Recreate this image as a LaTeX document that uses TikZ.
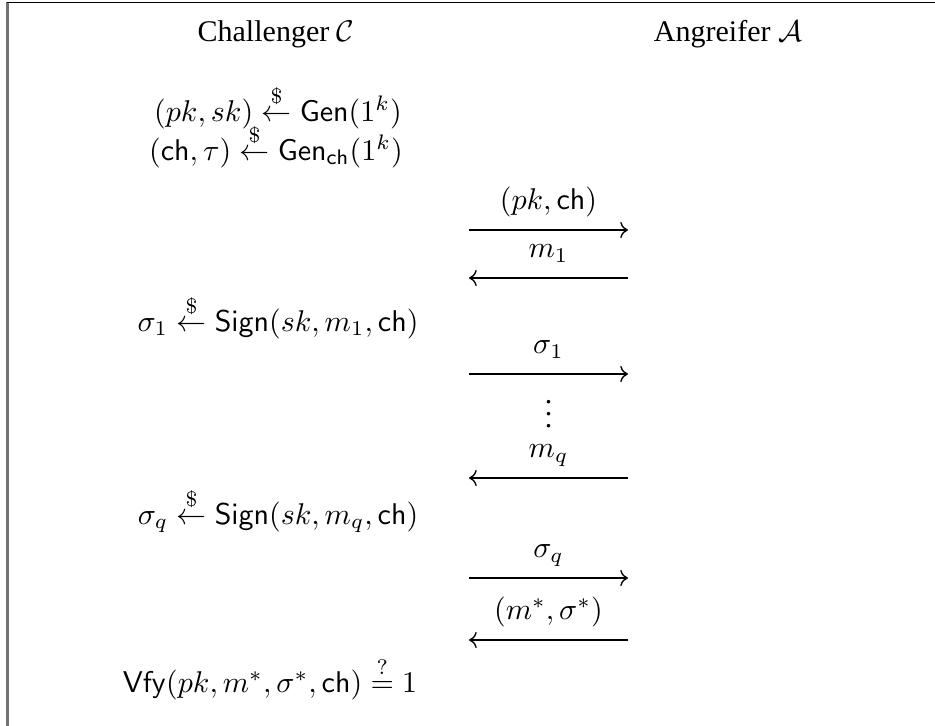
\documentclass[tikz,border=0pt]{standalone}
\usepackage{amsmath,amssymb}
\usepackage[no-math]{fontspec}
\setmainfont{Liberation Serif}
\usetikzlibrary{arrows.meta,positioning,calc}
\definecolor{framegray}{RGB}{115,115,115}
\tikzset{
  partynode/.style={anchor=base,inner sep=0pt,font=\normalsize},
  stepnode/.style={anchor=base,inner sep=0pt},
  msglabel/.style={anchor=base,inner sep=0pt,yshift=6.8pt},
  sendarr/.style={-{Computer Modern Rightarrow},line width=0.45pt,color=black},
  frameleft/.style={draw=framegray,line width=0.75pt},
  frametop/.style={draw=black,line width=0.45pt}
}
\newcommand{\sampleop}{\mathrel{\overset{\mathchar"0024}{\leftarrow}}}

\begin{document}
\begin{tikzpicture}[x=0.3333pt,y=-0.3333pt]
  \useasboundingbox (0,0) rectangle (935,726);
  %% Frame (top and left edge)
  \draw[frameleft] (7.5,726) -- (7.5,2.5);
  \draw[frametop] (7.2,2.5) -- (935,2.5);

  %% Parties
  \node[partynode] (chal) at (276,42) {Challenger $\mathcal{C}$};
  \node[partynode] (adv) at (728,42) {Angreifer $\mathcal{A}$};

  %% Challenger steps
  \node[stepnode] (keygen) at (278,121) {$(pk,sk)\sampleop\mathsf{Gen}(1^k)$};
  \node[stepnode] (chgen) at (276,160) {$(\mathsf{ch},\tau)\sampleop\mathsf{Gen}_{\mathsf{ch}}(1^k)$};
  \node[stepnode] (sign1) at (278,331) {$\sigma_1\sampleop\mathsf{Sign}(sk,m_1,\mathsf{ch})$};
  \node[stepnode] (signq) at (278,524) {$\sigma_q\sampleop\mathsf{Sign}(sk,m_q,\mathsf{ch})$};
  \node[stepnode] (vfy) at (270,692) {$\mathsf{Vfy}(pk,m^*,\sigma^*,\mathsf{ch})\stackrel{?}{=}1$};

  %% Message ends
  \coordinate (c1) at (469,230); \coordinate (a1) at (628,230);
  \coordinate (c2) at (469,278); \coordinate (a2) at (628,278);
  \coordinate (c3) at (469,374); \coordinate (a3) at (628,374);
  \coordinate (c4) at (469,478); \coordinate (a4) at (628,478);
  \coordinate (c5) at (469,578); \coordinate (a5) at (628,578);
  \coordinate (c6) at (469,640); \coordinate (a6) at (628,640);

  %% Messages
  \draw[sendarr] (c1) -- node[msglabel] (msgpk) {$(pk,\mathsf{ch})$} (a1);
  \draw[sendarr] (a2) -- node[msglabel] (msgm1) {$m_1$} (c2);
  \draw[sendarr] (c3) -- node[msglabel] (msgs1) {$\sigma_1$} (a3);
  \node[anchor=base,inner sep=0pt] (dots) at (548.5,427) {$\vdots$};
  \draw[sendarr] (a4) -- node[msglabel] (msgmq) {$m_q$} (c4);
  \draw[sendarr] (c5) -- node[msglabel] (msgsq) {$\sigma_q$} (a5);
  \draw[sendarr] (a6) -- node[msglabel] (msgfg) {$(m^*,\sigma^*)$} (c6);
\end{tikzpicture}
\end{document}
